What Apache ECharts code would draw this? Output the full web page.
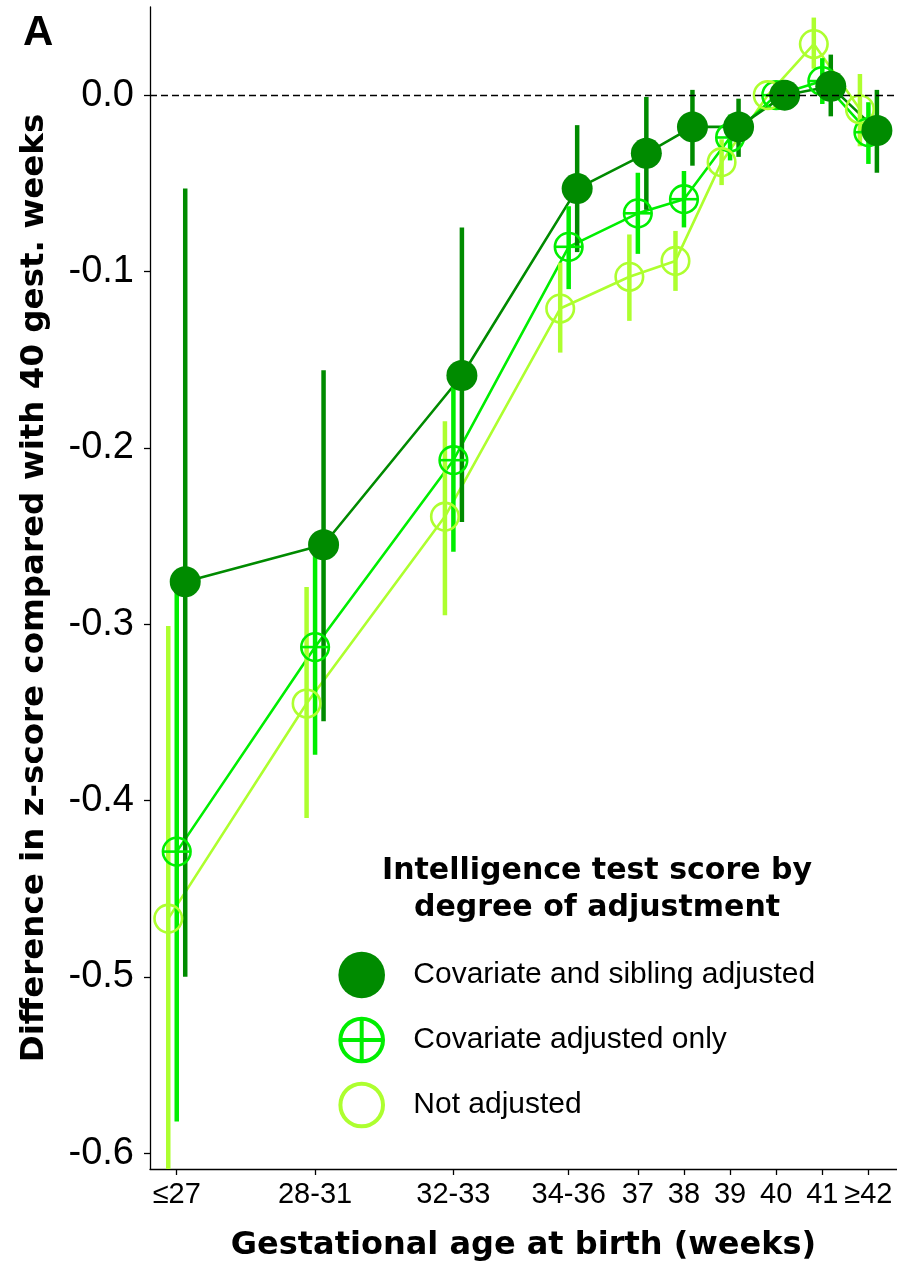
<!DOCTYPE html>
<html>
<head>
<meta charset="utf-8">
<script src="https://cdn.jsdelivr.net/npm/echarts@6/dist/echarts.min.js"></script>
<style>
  html, body { margin: 0; padding: 0; background: #fff; }
  #chart { width: 897px; height: 1267px; }
</style>
</head>
<body>
<div id="chart"></div>
<script>
// Gestational age groups and the week position each group is plotted at
const groupLabels = ['≤27', '28-31', '32-33', '34-36', '37', '38', '39', '40', '41', '≥42'];
const groupWeeks  = [27, 30, 33, 35.5, 37, 38, 39, 40, 41, 42];

// Y-axis ticks
const yTicks      = [0, -0.1, -0.2, -0.3, -0.4, -0.5, -0.6];
const yTickLabels = ['0.0', '-0.1', '-0.2', '-0.3', '-0.4', '-0.5', '-0.6'];

// Covariate and sibling adjusted: estimate, lower and upper CI
const siblingEst = [-0.276, -0.255, -0.159, -0.053, -0.033, -0.018, -0.018, 0, 0.005, -0.020];
const siblingLo  = [-0.500, -0.355, -0.242, -0.089, -0.065, -0.040, -0.035, 0, -0.012, -0.044];
const siblingHi  = [-0.053, -0.156, -0.075, -0.017, -0.001, 0.003, -0.002, 0, 0.023, 0.003];

// Covariate adjusted only
const covarEst = [-0.429, -0.313, -0.207, -0.086, -0.067, -0.059, -0.024, 0, 0.008, -0.021];
const covarLo  = [-0.582, -0.374, -0.259, -0.110, -0.090, -0.075, -0.037, 0, -0.005, -0.039];
const covarHi  = [-0.276, -0.251, -0.154, -0.063, -0.044, -0.043, -0.011, 0, 0.021, -0.004];

// Not adjusted
const crudeEst = [-0.467, -0.345, -0.239, -0.121, -0.103, -0.094, -0.038, 0, 0.029, -0.008];
const crudeLo  = [-0.633, -0.410, -0.295, -0.146, -0.128, -0.111, -0.051, 0, 0.015, -0.029];
const crudeHi  = [-0.301, -0.279, -0.185, -0.095, -0.079, -0.077, -0.025, 0, 0.044, 0.012];

const legendTitle = 'Intelligence test score by\ndegree of adjustment';
const seriesNames = ['Covariate and sibling adjusted', 'Covariate adjusted only', 'Not adjusted'];

const COL_DARK = '#008B00';
const COL_MID = '#00EE00';
const COL_LIGHT = '#ADFF2F';

const DODGE = 0.184;
const BOLD_FONT = '"DejaVu Sans", Verdana, sans-serif';
const REG_FONT = '"Liberation Sans", Arial, Helvetica, sans-serif';

const groups = [
  { name: seriesNames[2], color: COL_LIGHT, est: crudeEst,   lo: crudeLo,   hi: crudeHi,   shift: -DODGE, marker: 'ring' },
  { name: seriesNames[1], color: COL_MID,   est: covarEst,   lo: covarLo,   hi: covarHi,   shift: 0,      marker: 'cross' },
  { name: seriesNames[0], color: COL_DARK,  est: siblingEst, lo: siblingLo, hi: siblingHi, shift: DODGE,  marker: 'dot' }
];

const series = [];

// connecting lines
groups.forEach(g => {
  series.push({
    type: 'line',
    name: g.name,
    z: 2,
    showSymbol: false,
    silent: true,
    lineStyle: { color: g.color, width: 2.6 },
    data: groupWeeks.map((w, i) => [w + g.shift, g.est[i]])
  });
});

// dashed reference line at zero
series.push({
  type: 'line',
  z: 1,
  data: [],
  silent: true,
  markLine: {
    silent: true,
    symbol: ['none', 'none'],
    label: { show: false },
    lineStyle: { color: '#000', width: 1.3, type: [7, 4] },
    data: [{ yAxis: 0 }]
  }
});

// confidence interval bars
groups.forEach(g => {
  series.push({
    type: 'custom',
    z: 3,
    silent: true,
    data: groupWeeks.map((w, i) => [w + g.shift, g.lo[i], g.hi[i]]),
    renderItem: function (params, api) {
      const x = api.value(0);
      const p1 = api.coord([x, api.value(1)]);
      const p2 = api.coord([x, api.value(2)]);
      const cs = params.coordSys;
      const top = cs.y, bottom = cs.y + cs.height;
      const clamp = v => Math.max(top, Math.min(bottom, v));
      return {
        type: 'line',
        shape: { x1: p1[0], y1: clamp(p1[1]), x2: p2[0], y2: clamp(p2[1]) },
        style: { stroke: g.color, lineWidth: 4.5 }
      };
    }
  });
});

// point markers
groups.forEach(g => {
  const data = groupWeeks.map((w, i) => [w + g.shift, g.est[i]]);
  if (g.marker === 'dot') {
    series.push({
      type: 'scatter', z: 4, silent: true, symbol: 'circle', symbolSize: 31,
      itemStyle: { color: g.color, opacity: 1 }, data
    });
  } else if (g.marker === 'ring') {
    series.push({
      type: 'scatter', z: 4, silent: true, symbol: 'circle', symbolSize: 27.5,
      itemStyle: { color: 'rgba(0,0,0,0)', borderColor: g.color, borderWidth: 2.6, opacity: 1 }, data
    });
  } else {
    series.push({
      type: 'custom', z: 4, silent: true, data,
      renderItem: function (params, api) {
        const p = api.coord([api.value(0), api.value(1)]);
        const r = 13.8;
        const st = { stroke: g.color, lineWidth: 2.6, fill: null };
        return {
          type: 'group',
          children: [
            { type: 'circle', shape: { cx: p[0], cy: p[1], r }, style: Object.assign({}, st) },
            { type: 'line', shape: { x1: p[0] - r, y1: p[1], x2: p[0] + r, y2: p[1] }, style: Object.assign({}, st) },
            { type: 'line', shape: { x1: p[0], y1: p[1] - r, x2: p[0], y2: p[1] + r }, style: Object.assign({}, st) }
          ]
        };
      }
    });
  }
});

// legend block
const LX = 361.7, LT = 413.3;
const legendRows = [975, 1040, 1105];
const graphic = [
  {
    type: 'text', left: 23, top: 12,
    style: { text: 'A', font: 'bold 42px ' + REG_FONT, fill: '#000' }
  },
  {
    type: 'text', x: 597, y: 890,
    style: {
      text: legendTitle, font: 'bold 30px ' + BOLD_FONT, fill: '#000',
      align: 'center', verticalAlign: 'middle', lineHeight: 36.6
    }
  },
  { type: 'circle', shape: { cx: LX, cy: legendRows[0], r: 23.3 }, style: { fill: COL_DARK } },
  { type: 'circle', shape: { cx: LX, cy: legendRows[1], r: 21.3 }, style: { fill: null, stroke: COL_MID, lineWidth: 4 } },
  { type: 'line', shape: { x1: LX - 21.3, y1: legendRows[1], x2: LX + 21.3, y2: legendRows[1] }, style: { stroke: COL_MID, lineWidth: 4 } },
  { type: 'line', shape: { x1: LX, y1: legendRows[1] - 21.3, x2: LX, y2: legendRows[1] + 21.3 }, style: { stroke: COL_MID, lineWidth: 4 } },
  { type: 'circle', shape: { cx: LX, cy: legendRows[2], r: 21.3 }, style: { fill: null, stroke: COL_LIGHT, lineWidth: 4 } }
];
seriesNames.forEach((n, i) => {
  graphic.push({
    type: 'text', x: LT, y: legendRows[i],
    style: { text: n, font: '30px ' + REG_FONT, fill: '#000', align: 'left', verticalAlign: 'middle' }
  });
});

const option = {
  animation: false,
  backgroundColor: '#fff',
  grid: { left: 150, right: 0, top: 7, bottom: 98, containLabel: false },
  xAxis: {
    type: 'value',
    min: 26.42,
    max: 42.62,
    name: 'Gestational age at birth (weeks)',
    nameLocation: 'middle',
    nameGap: 61,
    nameTextStyle: { fontFamily: BOLD_FONT, fontWeight: 'bold', fontSize: 32, color: '#000' },
    axisLine: { show: true, onZero: false, lineStyle: { color: '#000', width: 1.3 } },
    axisTick: { show: true, length: 6, customValues: groupWeeks, lineStyle: { color: '#000', width: 1.3 } },
    axisLabel: {
      show: true, customValues: groupWeeks, margin: 11,
      fontFamily: REG_FONT, fontSize: 29, color: '#000',
      formatter: v => {
        const i = groupWeeks.findIndex(w => Math.abs(w - v) < 1e-6);
        return i >= 0 ? groupLabels[i] : '';
      }
    },
    splitLine: { show: false }
  },
  yAxis: {
    type: 'value',
    min: -0.609,
    max: 0.05,
    name: 'Difference in z-score compared with 40 gest. weeks',
    nameLocation: 'middle',
    nameGap: 99,
    nameTextStyle: { fontFamily: BOLD_FONT, fontWeight: 'bold', fontSize: 32.5, color: '#000' },
    axisLine: { show: true, onZero: false, lineStyle: { color: '#000', width: 1.3 } },
    axisTick: { show: true, length: 6, customValues: yTicks, lineStyle: { color: '#000', width: 1.3 } },
    axisLabel: {
      show: true, customValues: yTicks, margin: 16,
      fontFamily: REG_FONT, fontSize: 38, color: '#000',
      formatter: v => {
        const i = yTicks.findIndex(t => Math.abs(t - v) < 1e-6);
        return i >= 0 ? yTickLabels[i] : '';
      }
    },
    splitLine: { show: false }
  },
  graphic,
  series
};

const chart = echarts.init(document.getElementById('chart'), null, { renderer: 'canvas' });
chart.setOption(option);
</script>
</body>
</html>
